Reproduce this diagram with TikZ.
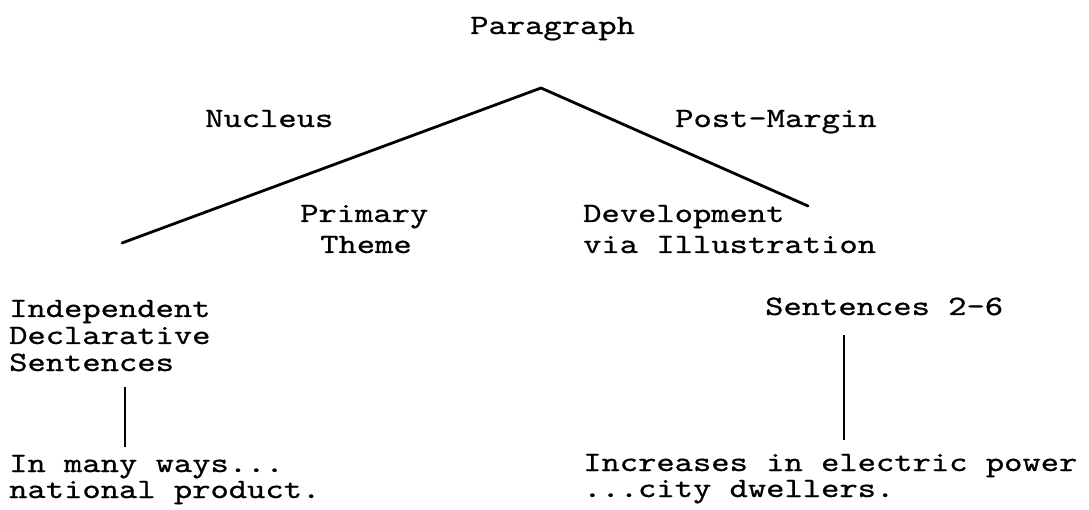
\documentclass[tikz,border=0pt]{standalone}
\usepackage{fontspec}
\usetikzlibrary{calc}

% typewriter face: Latin Modern Mono, widened to a 10-pitch look and darkened
\newfontfamily\typer{lmmono10-regular}[Extension=.otf, FakeStretch=1.245, FakeBold=0.8]

\tikzset{
  lbl/.style={font=\typer\fontsize{28}{26}\selectfont, inner sep=0pt, anchor=base west},
  branch/.style={line width=2.8pt, line cap=round, line join=round},
  stem/.style={line width=2.4pt}
}

\begin{document}
\begin{tikzpicture}[x=1pt, y=-1pt]
  \useasboundingbox (0,0) rectangle (1089,510);

  % top level
  \node[lbl] (para) at (470,34) {Paragraph};

  % branch labels
  \node[lbl] (nucleus)    at (205,127) {Nucleus};
  \node[lbl] (postmargin) at (675,127) {Post-Margin};
  \node[lbl] (primary)    at (300,222) {Primary};
  \node[lbl] (theme)      at (320,253) {Theme};
  \node[lbl] (develop)    at (583,222) {Development};
  \node[lbl] (via)        at (583,253) {via Illustration};

  % fillers
  \node[lbl] (indep)   at (9,317) {Independent};
  \node[lbl] (decl)    at (9,344) {Declarative};
  \node[lbl] (sentl)   at (9,371) {Sentences};
  \node[lbl] (sentr)   at (765,315) {Sentences 2-6};

  % text excerpts
  \node[lbl] (exla) at (9,472) {In many ways...};
  \node[lbl] (exlb) at (9,498) {national product.};
  \node[lbl] (exra) at (583,471) {Increases in electric power};
  \node[lbl] (exrb) at (583,497) {...city dwellers.};

  % branch points
  \coordinate (apex)    at (541,88);
  \coordinate (nucEnd)  at (122,243);
  \coordinate (postEnd) at (808,206);
  \coordinate (lTop) at (125,387);
  \coordinate (lBot) at (125,447);
  \coordinate (rTop) at (844,335);
  \coordinate (rBot) at (844,440);

  \draw[branch] (nucEnd) -- (apex) -- (postEnd);
  \draw[stem] (lTop) -- (lBot);
  \draw[stem] (rTop) -- (rBot);
\end{tikzpicture}
\end{document}
